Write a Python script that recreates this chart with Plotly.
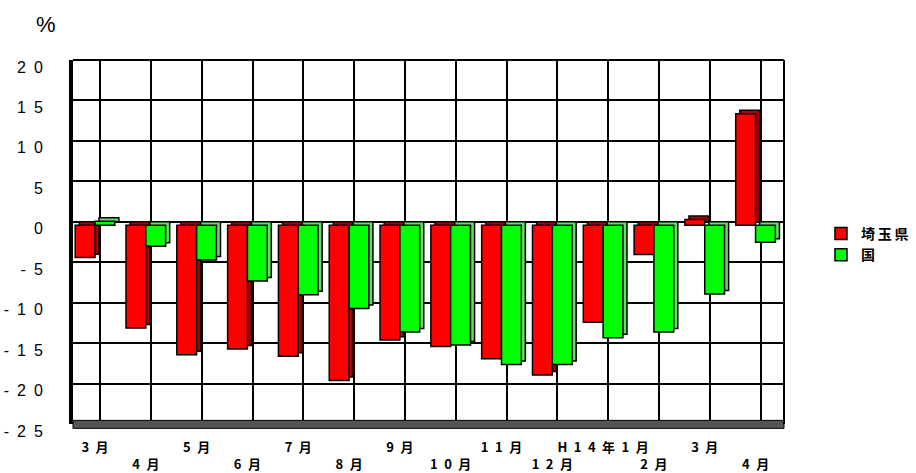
import plotly.graph_objects as go

SP = "\u2002"
months = ["3 月", "4 月", "5 月", "6 月", "7 月", "8 月", "9 月", "1 0 月", "1 1 月",
          "1 2 月", "H 1 4 年 1 月", "2 月", "3 月", "4 月"]
saitama = [-4.0, -12.7, -16.0, -15.3, -16.2, -19.2, -14.2, -15.0, -16.5, -18.5, -12.0, -3.6, 0.7, 13.8]
kuni = [0.5, -2.6, -4.3, -6.9, -8.6, -10.3, -13.2, -14.8, -17.2, -17.2, -13.9, -13.2, -8.5, -2.1]
y_ticks = [20, 15, 10, 5, 0, -5, -10, -15, -20, -25]
y_ticktext = ["2 0", "1 5", "1 0", "5", "0", "- 5", "- 1 0", "- 1 5", "- 2 0", "- 2 5"]

idx = list(range(len(months)))
ticktext = ["<b>" + m.replace(" ", "\u2002") + "</b>" if i % 2 == 0
            else "<br><b>" + m.replace(" ", "\u2002") + "</b>"
            for i, m in enumerate(months)]
y_tt = [t.replace(" ", SP) for t in y_ticktext]

JP = "Noto Sans CJK JP"
W = 0.39
DX = 0.08      # depth shift right (category units)
DY = -0.43     # front face drop (value units)
line = dict(color="black", width=1.5)

fig = go.Figure()
fig.add_trace(go.Bar(x=idx, y=saitama, base=0, offset=-W + DX, width=W,
                     marker=dict(color="#B00000", line=line), showlegend=False, hoverinfo="skip"))
fig.add_trace(go.Bar(x=idx, y=saitama, base=DY, offset=-W, width=W, name="<b>埼\u2009玉\u2009県</b>",
                     marker=dict(color="#FF0000", line=line)))
fig.add_trace(go.Bar(x=idx, y=kuni, base=0, offset=DX, width=W,
                     marker=dict(color="#60E060", line=line), showlegend=False, hoverinfo="skip"))
fig.add_trace(go.Bar(x=idx, y=kuni, base=DY, offset=0, width=W, name="<b>国</b>",
                     marker=dict(color="#00FF00", line=line)))

fig.update_layout(
    width=916, height=473,
    margin=dict(l=73, r=132, t=60, b=49, autoexpand=False),
    plot_bgcolor="white", paper_bgcolor="white",
    barmode="overlay",
    font=dict(family="Liberation Sans, Arial", color="black"),
    legend=dict(x=1.052, y=0.566, xanchor="left", yanchor="top",
                font=dict(family=JP, size=14, color="black"),
                tracegroupgap=0, itemwidth=30, bgcolor="rgba(0,0,0,0)"),
    xaxis=dict(range=[-0.433, 13.56], tickmode="array", tickvals=idx, ticktext=ticktext,
               tickfont=dict(family=JP, size=13, color="black"), tickangle=0,
               automargin=False,
               showgrid=False, zeroline=False, showline=False, ticks="",
               ticklabelstandoff=14,
               minor=dict(tickmode="linear", tick0=0.1, dtick=1, showgrid=True,
                          gridcolor="black", gridwidth=2)),
    yaxis=dict(range=[-25, 20], tickmode="array", tickvals=y_ticks, ticktext=y_tt,
               tickfont=dict(family="Liberation Sans, Arial", size=16, color="black"),
               automargin=False, ticklabelshift=7,
               showgrid=True, gridcolor="black", gridwidth=2, zeroline=False,
               showline=True, linecolor="black", linewidth=4, ticks="",
               ticklabelstandoff=23),
    shapes=[
        dict(type="rect", xref="x domain", yref="y domain", x0=0, x1=1, y0=-0.012, y1=0.01,
             fillcolor="#555555", line=dict(color="black", width=1), layer="above"),
        dict(type="line", xref="x domain", yref="y domain", x0=1, x1=1, y0=0, y1=1,
             line=dict(color="black", width=2)),
        dict(type="line", xref="x domain", yref="y domain", x0=0, x1=1, y0=1, y1=1,
             line=dict(color="black", width=2)),
    ],
    annotations=[
        dict(text="%", xref="paper", yref="paper", x=-0.038, y=1.0, yshift=36,
             xanchor="center", yanchor="middle", showarrow=False,
             font=dict(family="Liberation Sans, Arial", size=22, color="black")),
    ],
)

fig.write_html("out.html")
